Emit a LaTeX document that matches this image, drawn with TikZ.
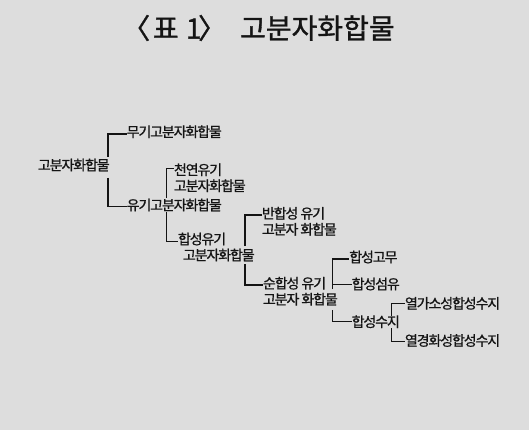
\documentclass[tikz,border=0pt]{standalone}
\usepackage{fontspec}
\newfontfamily\kr[LetterSpace=-8,FakeBold=0.8]{Noto Sans CJK KR}
\newfontfamily\krt[FakeBold=1.2]{Noto Sans CJK KR}
\definecolor{bgpaper}{RGB}{221,221,221}
\definecolor{ink}{RGB}{20,20,20}
\begin{document}
\begin{tikzpicture}[x=1pt,y=-1pt,
  lbl/.style={anchor=west,inner sep=0pt,outer sep=0pt,text=ink,font=\kr\fontsize{14}{16}\selectfont,align=left},
  conn/.style={draw=ink,line width=1.4pt}]
\fill[bgpaper] (0,0) rectangle (529,430);
\useasboundingbox (0,0) rectangle (529,430);
% title
\node[inner sep=0pt,anchor=west,text=ink,font=\krt\fontsize{28}{30}\selectfont] (title) at (122,28) {〈\kern2.7pt 표\kern7.3pt 1\kern-3.4pt 〉\kern14pt 고분자화합물};
% nodes
\node[lbl] (root)  at (38,165)    {고분자화합물};
\node[lbl] (mugi)  at (126.7,131.7) {무기고분자화합물};
\node[lbl] (yugi)  at (126.7,205) {유기고분자화합물};
\node[lbl] (cheon) at (174,177.8) {천연유기\\고분자화합물};
\node[lbl] (hap)   at (178,247)   {합성유기\\\hspace*{5pt}고분자화합물};
\node[lbl] (ban)   at (262,221.3) {반합성 유기\\고분자 화합물};
\node[lbl] (sun)   at (263,291.2) {순합성 유기\\고분자 화합물};
\node[lbl] (gomu)  at (349.3,257) {합성고무};
\node[lbl] (seom)  at (351.7,284) {합성섬유};
\node[lbl] (suji)  at (351.7,321.7) {합성수지};
\node[lbl] (yeolga) at (405,303.3) {열가소성합성수지};
\node[lbl] (yeolgy) at (405,340.5) {열경화성합성수지};
% bracket coordinates (breaks around parent labels)
\coordinate (b1a) at (108,157);   \coordinate (b1b) at (108,178);
\coordinate (b1t) at (0,134);     \coordinate (b1u) at (0,206.7);
\coordinate (b2a) at (166.7,198); \coordinate (b2b) at (166.7,212);
\coordinate (b2t) at (0,168.3);   \coordinate (b2u) at (0,241.5);
\coordinate (b3a) at (245,246);   \coordinate (b3b) at (245,264);
\coordinate (b3t) at (0,215);     \coordinate (b3u) at (0,285);
\coordinate (b4a) at (332.5,289); \coordinate (b4b) at (332.5,310);
\coordinate (b4t) at (0,259);     \coordinate (b4s) at (0,284.5); \coordinate (b4u) at (0,321.7);
\coordinate (b5a) at (391.7,316); \coordinate (b5b) at (391.7,328);
\coordinate (b5t) at (0,303.3);   \coordinate (b5u) at (0,341.7);
% connectors
\draw[conn] (b1a) |- (mugi.west |- b1t);
\draw[conn] (b1b) |- (yugi.west |- b1u);
\draw[conn] (b2a) |- (cheon.west |- b2t);
\draw[conn] (b2b) |- (hap.west |- b2u);
\draw[conn] (b3a) |- (ban.west |- b3t);
\draw[conn] (b3b) |- (sun.west |- b3u);
\draw[conn] (b4a) |- (gomu.west |- b4t);
\draw[conn] (b4a |- b4s) -- (seom.west |- b4s);
\draw[conn] (b4b) |- (suji.west |- b4u);
\draw[conn] (b5a) |- (yeolga.west |- b5t);
\draw[conn] (b5b) |- (yeolgy.west |- b5u);
\end{tikzpicture}
\end{document}
